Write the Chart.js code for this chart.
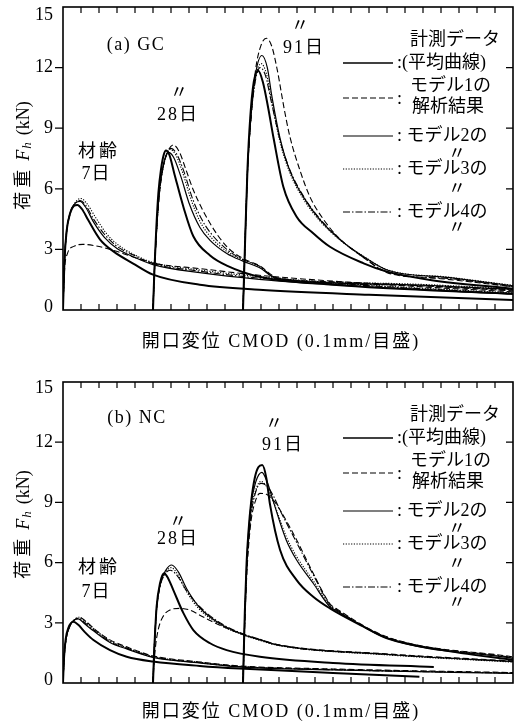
<!DOCTYPE html>
<html lang="ja">
<head>
<meta charset="utf-8">
<title>荷重-CMOD曲線</title>
<script src="https://cdn.jsdelivr.net/npm/chart.js@4.4.1/dist/chart.umd.min.js"></script>
<style>
  html, body { margin: 0; padding: 0; background: #fff; }
  canvas { display: block; }
</style>
</head>
<body>
<canvas id="chartGC" width="518" height="365"></canvas>
<canvas id="chartNC" width="518" height="361"></canvas>
<script>
// axis ranges (x = CMOD in 0.1mm divisions, y = load in kN)
const xRange = [0, 25];
const yTickValues = [0, 3, 6, 9, 12, 15];

// ---- (a) GC ----  each curve is [cmod, load] pairs
const gc7Measured = [[0,0],[0.08,2.4],[0.2,3.9],[0.4,4.8],[0.6,5.15],[0.8,5.2],[1.05,5.0],[1.4,4.45],[2.05,3.5],[2.8,2.9],[3.9,2.3],[5.0,1.75],[7.6,1.25],[10.9,1.0],[17,0.75],[25,0.5]];
const gc7Model1 = [[0,0],[0.08,1.9],[0.25,2.8],[0.6,3.15],[1.1,3.25],[1.8,3.18],[2.7,2.98],[3.9,2.62],[5.0,2.32],[7.6,2.05],[10.9,1.72],[18,1.25],[25,0.9]];
const gc7Model2 = [[0,0],[0.08,2.4],[0.2,3.9],[0.45,4.95],[0.7,5.3],[0.95,5.38],[1.25,5.1],[1.7,4.35],[2.3,3.6],[3.0,3.05],[4.0,2.6],[5.0,2.25],[7.6,1.85],[10.9,1.52],[18,1.1],[25,0.78]];
const gc7Model3 = [[0,0],[0.08,2.3],[0.2,3.8],[0.45,4.9],[0.75,5.4],[1.0,5.52],[1.3,5.3],[1.8,4.6],[2.4,3.8],[3.1,3.2],[4.0,2.72],[5.0,2.35],[7.6,1.98],[10.9,1.65],[18,1.18],[25,0.85]];
const gc7Model4 = [[0,0],[0.08,2.35],[0.2,3.85],[0.45,4.9],[0.7,5.3],[0.95,5.42],[1.25,5.2],[1.7,4.5],[2.3,3.75],[3.0,3.15],[4.0,2.68],[5.0,2.3],[7.6,1.92],[10.9,1.58],[18,1.15],[25,0.82]];

const gc28Measured = [[5,0],[5.08,2.0],[5.18,4.0],[5.3,5.8],[5.45,7.0],[5.6,7.7],[5.72,7.9],[5.9,7.7],[6.2,6.7],[6.69,5.1],[7.24,3.65],[8.17,2.7],[9.1,2.2],[10.9,1.65],[15,1.25],[25,0.8]];
const gc28Model1 = [[5,0],[5.08,1.9],[5.2,3.9],[5.35,5.7],[5.55,7.0],[5.8,7.8],[6.13,8.17],[6.45,7.85],[6.85,6.9],[7.24,5.94],[8.17,4.29],[9.1,3.14],[10,2.55],[10.9,2.2],[11.9,1.6],[15,1.4],[25,0.95]];
const gc28Model2 = [[5,0],[5.08,2.0],[5.2,4.0],[5.35,5.8],[5.55,7.1],[5.85,7.8],[6.15,7.55],[6.55,6.6],[7.0,5.3],[7.6,4.1],[8.17,3.45],[9.1,2.8],[10,2.42],[10.9,2.1],[11.9,1.55],[18,1.28],[25,1.02]];
const gc28Model3 = [[5,0],[5.08,1.95],[5.2,3.95],[5.35,5.75],[5.6,7.2],[5.95,7.95],[6.25,7.7],[6.65,6.8],[7.1,5.5],[7.6,4.4],[8.17,3.65],[9.1,2.9],[10,2.48],[10.9,2.15],[11.9,1.58],[18,1.32],[25,1.05]];
const gc28Model4 = [[5,0],[5.08,1.95],[5.2,3.95],[5.35,5.75],[5.6,7.2],[6.0,8.0],[6.3,7.75],[6.7,6.9],[7.2,5.5],[7.7,4.5],[8.17,3.85],[9.1,3.0],[10,2.5],[10.9,2.18],[11.9,1.52],[18,1.25],[25,1.0]];

const gc91Measured = [[10,0],[10.12,3.5],[10.25,7.0],[10.4,9.5],[10.6,11.3],[10.85,11.85],[11.1,11.3],[11.4,10.0],[11.7,8.5],[12.24,6.1],[12.98,4.62],[13.9,3.8],[14.83,3.13],[16.7,2.31],[18,1.9],[20.4,1.49],[25,1.05]];
const gc91Model1 = [[10,0],[10.12,3.4],[10.25,6.8],[10.45,9.6],[10.7,11.9],[11.0,13.1],[11.3,13.45],[11.6,13.05],[11.9,11.9],[12.3,9.9],[12.6,8.6],[13.17,6.9],[13.72,5.6],[14.46,4.5],[15.4,3.5],[16.7,2.6],[18,1.85],[21,1.55],[25,1.15]];
const gc91Model2 = [[10,0],[10.12,3.5],[10.25,6.9],[10.45,9.7],[10.7,11.7],[11.05,12.6],[11.35,12.0],[11.6,10.6],[12.06,8.5],[12.6,6.9],[13.35,5.6],[14.28,4.46],[15.4,3.47],[16.7,2.64],[18,1.98],[21.5,1.6],[25,1.2]];
const gc91Model3 = [[10,0],[10.12,3.5],[10.25,6.9],[10.45,9.6],[10.7,11.5],[11.0,12.2],[11.3,11.7],[11.6,10.3],[12.06,8.3],[12.6,6.8],[13.35,5.5],[14.28,4.4],[15.4,3.45],[16.7,2.66],[18,2.0],[21.5,1.62],[25,1.22]];
const gc91Model4 = [[10,0],[10.12,3.5],[10.25,6.9],[10.45,9.6],[10.7,11.4],[10.95,12.0],[11.25,11.6],[11.55,10.4],[12.06,8.4],[12.6,6.95],[13.35,5.65],[14.28,4.5],[15.4,3.5],[16.7,2.6],[18,1.88],[21.5,1.55],[25,1.15]];

// ---- (b) NC ----
const nc7Measured = [[0,0],[0.06,1.3],[0.15,2.2],[0.3,2.75],[0.57,3.05],[0.85,2.9],[1.2,2.55],[1.69,2.14],[2.61,1.64],[3.54,1.31],[5.0,1.07],[7.6,0.85],[9.8,0.72],[15,0.5],[19.8,0.31]];
const nc7Model1 = [[0,0],[0.06,1.2],[0.15,2.05],[0.35,2.75],[0.65,3.15],[0.95,3.25],[1.3,3.05],[1.8,2.65],[2.61,2.15],[3.54,1.8],[5.0,1.35],[7.6,1.05],[9.8,0.85],[15,0.7],[25,0.52]];
const nc7Model2 = [[0,0],[0.06,1.25],[0.15,2.1],[0.35,2.8],[0.6,3.12],[0.85,3.2],[1.2,2.95],[1.69,2.6],[2.61,2.02],[3.54,1.7],[5.0,1.28],[7.6,1.0],[9.8,0.8],[15,0.65],[25,0.48]];
const nc7Model3 = [[0,0],[0.06,1.2],[0.15,2.05],[0.35,2.78],[0.62,3.15],[0.9,3.28],[1.25,3.05],[1.75,2.68],[2.61,2.1],[3.54,1.76],[5.0,1.32],[7.6,1.03],[9.8,0.83],[15,0.68],[25,0.5]];
const nc7Model4 = [[0,0],[0.06,1.22],[0.15,2.08],[0.35,2.78],[0.6,3.12],[0.88,3.22],[1.22,3.0],[1.72,2.64],[2.61,2.06],[3.54,1.73],[5.0,1.3],[7.6,1.01],[9.8,0.82],[15,0.66],[25,0.49]];

const nc28Measured = [[5,0],[5.06,1.5],[5.12,2.6],[5.2,3.8],[5.39,4.97],[5.61,5.47],[5.85,5.2],[6.13,4.63],[6.69,3.48],[7.24,2.64],[8.17,1.98],[9.09,1.64],[10.94,1.31],[15,1.0],[20.6,0.8]];
const nc28Model1 = [[5,0],[5.06,1.0],[5.15,1.9],[5.3,2.7],[5.55,3.3],[5.94,3.64],[6.5,3.72],[7.0,3.65],[7.6,3.38],[8.2,3.1],[8.72,2.88],[10,2.42],[10.94,2.17],[11.9,1.92],[18,1.45],[25,1.1]];
const nc28Model2 = [[5,0],[5.06,1.5],[5.12,2.6],[5.2,3.7],[5.39,4.9],[5.7,5.6],[6.04,5.88],[6.4,5.55],[6.87,4.7],[7.6,3.75],[8.72,2.95],[10,2.42],[10.94,2.15],[11.9,1.9],[18,1.42],[25,1.06]];
const nc28Model3 = [[5,0],[5.06,1.5],[5.12,2.6],[5.2,3.7],[5.39,4.85],[5.7,5.5],[6.0,5.75],[6.35,5.45],[6.8,4.65],[7.5,3.75],[8.72,2.9],[10,2.4],[10.94,2.12],[11.9,1.88],[18,1.4],[25,1.04]];
const nc28Model4 = [[5,0],[5.06,1.5],[5.12,2.6],[5.2,3.7],[5.39,4.8],[5.65,5.4],[5.95,5.62],[6.3,5.4],[6.9,4.55],[7.6,3.8],[8.72,3.0],[10,2.45],[10.94,2.18],[11.9,1.9],[18,1.43],[25,1.07]];

const nc91Measured = [[10,0],[10.1,3.5],[10.2,6.0],[10.3,7.5],[10.45,9.0],[10.65,10.2],[10.85,10.75],[11.07,10.86],[11.3,10.2],[11.5,8.9],[12.06,6.63],[12.98,5.13],[13.9,4.3],[14.83,3.72],[16.7,2.81],[18,2.23],[21,1.65],[25,1.15]];
const nc91Model1 = [[10,0],[10.1,3.0],[10.2,5.2],[10.3,6.7],[10.45,8.1],[10.7,9.1],[10.94,9.45],[11.3,9.4],[11.7,9.1],[12.06,8.62],[12.98,7.13],[13.9,5.47],[14.83,3.95],[15.2,3.7],[18,2.3],[25,1.3]];
const nc91Model2 = [[10,0],[10.1,3.4],[10.2,5.9],[10.3,7.4],[10.45,8.9],[10.7,10.0],[11.05,10.5],[11.35,10.0],[11.7,9.0],[12.4,7.13],[12.98,6.13],[13.9,4.97],[14.83,3.8],[15.2,3.6],[18,2.23],[25,1.23]];
const nc91Model3 = [[10,0],[10.1,3.3],[10.2,5.7],[10.3,7.2],[10.45,8.6],[10.7,9.6],[11.0,10.05],[11.3,9.8],[11.7,9.0],[12.4,7.3],[12.98,6.3],[13.9,5.1],[14.83,3.85],[15.2,3.62],[18,2.25],[25,1.25]];
const nc91Model4 = [[10,0],[10.1,3.2],[10.2,5.5],[10.3,7.0],[10.45,8.4],[10.7,9.5],[11.0,9.95],[11.35,9.8],[11.7,9.3],[12.06,8.6],[12.98,7.0],[13.9,5.4],[14.83,3.9],[15.2,3.65],[18,2.28],[25,1.27]];

const ink = '#000';
const serif = '"Liberation Serif", "Noto Sans CJK JP"';

// one style per series: 計測データ, モデル1..4
const lineStyles = [
    { width: 2.0, dash: [] },
    { width: 1.1, dash: [6, 3] },
    { width: 1.2, dash: [] },
    { width: 1.1, dash: [1.2, 1.5] },
    { width: 1.1, dash: [7, 2, 1.5, 2] }
];

function makeDatasets(groups) {
    const out = [];
    groups.forEach(group => {
        group.forEach((pts, i) => {
            out.push({
                data: pts.map(p => ({ x: p[0], y: p[1] })),
                showLine: true,
                borderColor: ink,
                borderWidth: lineStyles[i].width,
                borderDash: lineStyles[i].dash,
                pointRadius: 0,
                cubicInterpolationMode: 'monotone',
                fill: false
            });
        });
    });
    return out;
}

// legend rows, y relative to the top of the plot area
const legendRows = [
    { style: 0, lineY: 56, texts: [['計測データ', 410, 33], [':(平均曲線)', 397, 56]] },
    { style: 1, lineY: 91, texts: [['モデル1の', 410, 79], [':', 397, 92], ['解析結果', 412, 100]] },
    { style: 2, lineY: 129, texts: [[': モデル2の', 397, 129], ['〃', 448, 147]] },
    { style: 3, lineY: 162, texts: [[': モデル3の', 397, 162], ['〃', 448, 182]] },
    { style: 4, lineY: 205, texts: [[': モデル4の', 397, 205], ['〃', 448, 221]] }
];

function drawLegend(ctx, a) {
    ctx.textAlign = 'left';
    ctx.textBaseline = 'middle';
    ctx.font = '18px ' + serif;
    legendRows.forEach(row => {
        const st = lineStyles[row.style];
        ctx.save();
        ctx.lineWidth = Math.min(st.width, 1.4);
        ctx.setLineDash(st.dash);
        ctx.beginPath();
        ctx.moveTo(343, a.top + row.lineY);
        ctx.lineTo(393, a.top + row.lineY);
        ctx.stroke();
        ctx.restore();
        row.texts.forEach(t => ctx.fillText(t[0], t[1], a.top + t[2]));
    });
}

function drawYTitle(ctx, cx, cy) {
    // 荷重 Fh (kN), rotated
    const parts = [
        { t: '荷重', font: '18px ' + serif, ls: '4px', dy: 0, gap: 5 },
        { t: 'F', font: 'italic 18px ' + serif, ls: '0px', dy: 0, gap: 1 },
        { t: 'h', font: 'italic 13px ' + serif, ls: '0px', dy: 4, gap: 7 },
        { t: '(kN)', font: '18px ' + serif, ls: '0px', dy: 0, gap: 0 }
    ];
    ctx.save();
    ctx.translate(cx, cy);
    ctx.rotate(-Math.PI / 2);
    ctx.textAlign = 'left';
    ctx.textBaseline = 'middle';
    let total = 0;
    parts.forEach(p => {
        ctx.font = p.font; ctx.letterSpacing = p.ls;
        p.w = ctx.measureText(p.t).width;
        total += p.w + p.gap;
    });
    let px = -total / 2;
    parts.forEach(p => {
        ctx.font = p.font; ctx.letterSpacing = p.ls;
        ctx.fillText(p.t, px, p.dy);
        px += p.w + p.gap;
    });
    ctx.restore();
}

function decorPlugin(panel) {
    return {
        id: 'decor',
        afterDraw(chart) {
            const { ctx, chartArea: a, scales: { x, y } } = chart;
            ctx.save();
            ctx.strokeStyle = ink;
            ctx.fillStyle = ink;

            // frame
            ctx.lineWidth = 1.6;
            ctx.strokeRect(a.left, a.top, a.right - a.left, a.bottom - a.top);

            // ticks: inward on top, bottom and right, outward on the left
            ctx.lineWidth = 1.2;
            ctx.beginPath();
            for (let v = xRange[0] + 1; v < xRange[1]; v++) {
                const px = x.getPixelForValue(v);
                ctx.moveTo(px, a.bottom); ctx.lineTo(px, a.bottom - 6);
                ctx.moveTo(px, a.top); ctx.lineTo(px, a.top + 6);
            }
            yTickValues.slice(1, -1).forEach(v => {
                const py = y.getPixelForValue(v);
                ctx.moveTo(a.left - 8, py); ctx.lineTo(a.left, py);
                ctx.moveTo(a.right, py); ctx.lineTo(a.right - 7, py);
            });
            ctx.stroke();

            // y tick labels
            ctx.font = '18px ' + serif;
            ctx.textAlign = 'right';
            ctx.textBaseline = 'middle';
            yTickValues.forEach(v => {
                let py = y.getPixelForValue(v);
                py = Math.min(Math.max(py, a.top + panel.topLabelShift), a.bottom - 3);
                ctx.fillText(String(v), a.left - 10, py);
            });

            // x title
            ctx.textAlign = 'center';
            ctx.font = '18px ' + serif;
            ctx.letterSpacing = '2px';
            ctx.fillText('開口変位 CMOD (0.1mm/目盛)', 281, a.bottom + panel.xTitleOffset);
            ctx.letterSpacing = '0px';

            drawYTitle(ctx, 24, (a.top + a.bottom) / 2 + panel.yTitleShift);

            // labels inside the plot
            panel.notes.forEach(n => {
                ctx.font = '18px ' + serif;
                ctx.letterSpacing = n.ls || '0px';
                ctx.textAlign = 'center';
                ctx.fillText(n.t, n.x, n.y);
            });
            ctx.letterSpacing = '0px';

            drawLegend(ctx, a);
            ctx.restore();
        }
    };
}

function makeChart(id, groups, panel) {
    return new Chart(document.getElementById(id), {
        type: 'scatter',
        data: { datasets: makeDatasets(groups) },
        options: {
            responsive: false,
            animation: false,
            devicePixelRatio: 1,
            layout: { padding: panel.padding },
            plugins: { legend: { display: false }, tooltip: { enabled: false } },
            scales: {
                x: { type: 'linear', min: xRange[0], max: xRange[1], display: false },
                y: { type: 'linear', min: 0, max: 15, display: false }
            }
        },
        plugins: [decorPlugin(panel)]
    });
}

makeChart('chartGC', [
    [gc7Measured, gc7Model1, gc7Model2, gc7Model3, gc7Model4],
    [gc28Measured, gc28Model1, gc28Model2, gc28Model3, gc28Model4],
    [gc91Measured, gc91Model1, gc91Model2, gc91Model3, gc91Model4]
], {
    padding: { left: 63, right: 5, top: 7, bottom: 55 },
    topLabelShift: 8,
    xTitleOffset: 32,
    yTitleShift: -3,
    notes: [
        { t: '(a) GC', x: 136, y: 45, ls: '1.5px' },
        { t: '材齢', x: 99, y: 152, ls: '3px' },
        { t: '7日', x: 96, y: 174, ls: '1px' },
        { t: '〃', x: 179, y: 93 },
        { t: '28日', x: 178, y: 115, ls: '2px' },
        { t: '〃', x: 300, y: 26 },
        { t: '91日', x: 304, y: 48, ls: '2px' }
    ]
});

makeChart('chartNC', [
    [nc7Measured, nc7Model1, nc7Model2, nc7Model3, nc7Model4],
    [nc28Measured, nc28Model1, nc28Model2, nc28Model3, nc28Model4],
    [nc91Measured, nc91Model1, nc91Model2, nc91Model3, nc91Model4]
], {
    padding: { left: 63, right: 5, top: 17, bottom: 43 },
    topLabelShift: 6,
    xTitleOffset: 29,
    yTitleShift: -8,
    notes: [
        { t: '(b) NC', x: 137, y: 53, ls: '1.5px' },
        { t: '〃', x: 178, y: 157 },
        { t: '28日', x: 178, y: 174, ls: '2px' },
        { t: '材齢', x: 99, y: 203, ls: '3px' },
        { t: '7日', x: 96, y: 227, ls: '1px' },
        { t: '〃', x: 274, y: 59 },
        { t: '91日', x: 283, y: 80, ls: '2px' }
    ]
});
</script>
</body>
</html>
